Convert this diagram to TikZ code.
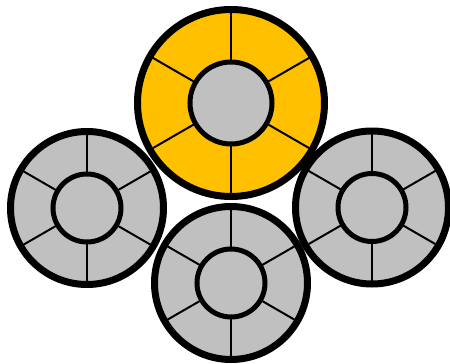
\documentclass[tikz,border=0pt]{standalone}
\definecolor{wheelorange}{HTML}{FFC000}
\definecolor{wheelgray}{HTML}{C0C0C0}
\tikzset{
  rim/.style={draw=black, line width=7pt},
  hub/.style={draw=black, line width=5pt, fill=wheelgray},
  spoke/.style={draw=black, line width=2pt},
}
\newcommand{\mywheel}[5]{% x, y, outer r, inner r, fill
  \fill[#5] (#1,#2) circle (#3);
  \foreach \a in {90,30,-30,-90,-150,150}
    \draw[spoke] ($(#1,#2)+(\a:#4)$) -- ($(#1,#2)+(\a:#3)$);
  \draw[hub] (#1,#2) circle (#4);
  \draw[rim] (#1,#2) circle (#3);
}
\usetikzlibrary{calc}
\begin{document}
\begin{tikzpicture}[x=1pt,y=-1pt]
\useasboundingbox (0,0) rectangle (450,364);
\mywheel{231}{103}{93.5}{41}{wheelorange}
\mywheel{231}{283}{76.5}{34}{wheelgray}
\mywheel{87}{208}{76.5}{34}{wheelgray}
\mywheel{372}{207.5}{76.5}{34}{wheelgray}
\end{tikzpicture}
\end{document}
